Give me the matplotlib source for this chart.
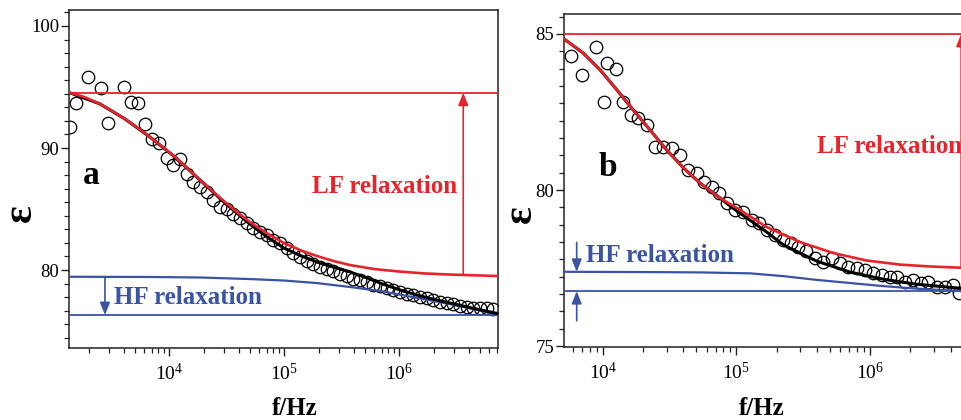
import numpy as np
import matplotlib.pyplot as plt
from matplotlib.ticker import MultipleLocator, AutoMinorLocator, LogLocator, NullFormatter

plt.rcParams['font.family'] = ['Liberation Serif', 'DejaVu Serif']
plt.rcParams['mathtext.default'] = 'regular'

RED = '#e8232a'
BLUE = '#3a53a4'

# ---- panel a (frequency as log10(f/Hz)) ----
a_pts_logf = [3.135, 3.183, 3.294, 3.402, 3.463, 3.604, 3.663, 3.729, 3.787, 3.852,
              3.913, 3.976, 4.030, 4.094, 4.150, 4.207, 4.265, 4.323, 4.381, 4.439,
              4.497, 4.555, 4.613, 4.671, 4.729, 4.787, 4.845, 4.903, 4.961, 5.019,
              5.077, 5.135, 5.193, 5.250, 5.309, 5.367, 5.424, 5.483, 5.541, 5.598,
              5.657, 5.715, 5.772, 5.830, 5.889, 5.946, 6.004, 6.063, 6.120, 6.178,
              6.237, 6.294, 6.352, 6.410, 6.468, 6.526, 6.584, 6.642, 6.700, 6.758, 6.816]
a_pts_eps = [91.75, 93.66, 95.84, 94.94, 92.07, 94.98, 93.80, 93.71, 91.97, 90.74,
             90.41, 89.22, 88.61, 89.11, 87.83, 87.24, 86.84, 86.43, 85.78, 85.16,
             85.00, 84.59, 84.24, 83.83, 83.44, 83.11, 82.87, 82.43, 82.19, 81.80,
             81.39, 81.07, 80.71, 80.49, 80.25, 80.12, 79.92, 79.71, 79.51, 79.30,
             79.16, 79.02, 78.81, 78.66, 78.50, 78.36, 78.20, 78.06, 77.95, 77.79,
             77.68, 77.54, 77.40, 77.30, 77.19, 77.07, 76.99, 76.91, 76.86, 76.86, 76.78]

a_lf_logf = [3.126, 3.26, 3.396, 3.505, 3.613, 3.72, 3.830, 3.94, 4.048, 4.157, 4.265,
             4.374, 4.483, 4.59, 4.700, 4.85, 4.996, 5.14, 5.283, 5.43, 5.570, 5.78,
             5.996, 6.22, 6.439, 6.857]
a_lf_eps = [94.55, 94.18, 93.61, 93.02, 92.38, 91.68, 90.90, 90.10, 89.26, 88.33, 87.38,
            86.47, 85.57, 84.72, 83.93, 83.00, 82.21, 81.62, 81.15, 80.73, 80.41, 80.08,
            79.88, 79.72, 79.63, 79.51]

a_fit_logf = [3.126, 3.396, 3.613, 3.830, 4.048, 4.265, 4.483, 4.700, 4.85, 4.996,
              5.14, 5.283, 5.43, 5.570, 5.71, 5.857, 6.0, 6.152, 6.30, 6.439, 6.60, 6.857]
a_fit_eps = [94.55, 93.61, 92.38, 90.90, 89.26, 87.38, 85.49, 83.77, 82.70, 81.80,
             81.18, 80.66, 80.22, 79.84, 79.38, 78.85, 78.38, 77.95, 77.60, 77.30,
             76.95, 76.43]

a_hf_logf = [3.126, 3.830, 4.265, 4.700, 4.996, 5.283, 5.570, 5.857, 6.152, 6.439, 6.65, 6.857]
a_hf_eps = [79.45, 79.43, 79.39, 79.26, 79.14, 78.93, 78.61, 78.25, 77.72, 77.21, 76.78, 76.31]

a_lf_top = 94.53
a_hf_bottom = 76.31
a_lf_arrow_logf = 6.555
a_hf_arrow_logf = 3.439

# ---- panel b ----
b_pts_logf = [3.761, 3.843, 3.948, 4.012, 4.030, 4.100, 4.154, 4.210, 4.266, 4.329,
              4.391, 4.453, 4.516, 4.578, 4.640, 4.703, 4.758, 4.816, 4.872, 4.928,
              4.990, 5.052, 5.115, 5.172, 5.227, 5.289, 5.347, 5.407, 5.464, 5.521,
              5.589, 5.651, 5.713, 5.776, 5.838, 5.900, 5.963, 6.025, 6.088, 6.150,
              6.200, 6.262, 6.324, 6.379, 6.436, 6.499, 6.561, 6.619, 6.668, 6.726, 6.79]
b_pts_eps = [84.29, 83.69, 84.59, 82.83, 84.06, 83.88, 82.83, 82.40, 82.30, 82.08,
             81.39, 81.39, 81.34, 81.12, 80.64, 80.54, 80.27, 80.11, 79.89, 79.57,
             79.36, 79.30, 79.04, 78.93, 78.72, 78.56, 78.40, 78.29, 78.18, 78.05,
             77.81, 77.70, 77.81, 77.65, 77.54, 77.49, 77.44, 77.33, 77.28, 77.22,
             77.22, 77.06, 77.12, 77.01, 77.06, 76.90, 76.90, 76.96, 76.69, 76.80, 76.72]

b_lf_logf = [3.713, 3.853, 3.980, 4.105, 4.229, 4.354, 4.479, 4.603, 4.728, 4.878,
             5.027, 5.227, 5.477, 5.725, 5.975, 6.225, 6.449, 6.681, 6.951]
b_lf_eps = [84.83, 84.39, 83.85, 83.21, 82.56, 81.92, 81.28, 80.71, 80.22, 79.74,
            79.36, 78.81, 78.33, 77.98, 77.74, 77.61, 77.55, 77.51, 77.48]

b_fit_logf = [3.713, 3.853, 3.980, 4.105, 4.229, 4.354, 4.479, 4.603, 4.728, 4.878,
              4.977, 5.227, 5.351, 5.601, 5.850, 6.100, 6.349, 6.681, 6.951]
b_fit_eps = [84.83, 84.39, 83.85, 83.21, 82.56, 81.92, 81.28, 80.71, 80.22, 79.74,
             79.41, 78.65, 78.24, 77.72, 77.37, 77.14, 76.98, 76.85, 76.76]

b_hf_logf = [3.713, 4.354, 4.728, 5.102, 5.351, 5.601, 5.850, 6.100, 6.349, 6.681, 6.951]
b_hf_eps = [77.38, 77.37, 77.36, 77.33, 77.24, 77.12, 77.02, 76.92, 76.84, 76.76, 76.75]

b_lf_top = 85.0
b_hf_bottom = 76.76
b_lf_arrow_logf = 6.681
b_hf_arrow_logf = 3.805
b_hf_arrow_tails = [78.32, 75.81]

fig = plt.figure(figsize=(9.61, 4.2), dpi=100)
ax_a = fig.add_axes([0.0718, 0.1714, 0.4464, 0.8048])
ax_b = fig.add_axes([0.5869, 0.1738, 0.4506, 0.7929])


def style_axis(ax, xlim, ylim, major):
    ax.set_xscale('log')
    ax.set_xlim(*xlim)
    ax.set_ylim(*ylim)
    ax.yaxis.set_major_locator(MultipleLocator(major))
    ax.yaxis.set_minor_locator(AutoMinorLocator(9))
    ax.xaxis.set_major_locator(LogLocator(base=10))
    ax.xaxis.set_minor_locator(LogLocator(base=10, subs=np.arange(2, 10)))
    ax.xaxis.set_minor_formatter(NullFormatter())
    for s in ax.spines.values():
        s.set_linewidth(1.1)
        s.set_color('#222222')
    ax.tick_params(which='major', direction='out', length=5.5, width=1.0, color='#222222')
    ax.tick_params(which='minor', direction='out', length=3.5, width=0.9, color='#222222')
    ax.tick_params(axis='y', labelsize=13.5, pad=1.5)
    ax.tick_params(axis='x', labelsize=14, pad=5)
    ax.set_xlabel('f/Hz', fontsize=18, fontweight='bold')
    ax.set_ylabel('ε', fontsize=30, fontweight='bold')


def draw(ax, pts_x, pts_y, lf_x, lf_y, fit_x, fit_y, hf_x, hf_y, lf_top, hf_bottom):
    f = lambda v: np.power(10.0, np.asarray(v))
    ax.plot(f(pts_x), pts_y, 'o', ms=9, mfc='none', mec='black', mew=0.9, zorder=2)
    ax.axhline(lf_top, color=RED, lw=1.3, zorder=3)
    ax.axhline(hf_bottom, color=BLUE, lw=1.3, zorder=3)
    ax.plot(f(hf_x), hf_y, color=BLUE, lw=1.6, zorder=3)
    ax.plot(f(fit_x), fit_y, color='black', lw=2.2, zorder=4)
    ax.plot(f(lf_x), lf_y, color=RED, lw=1.9, zorder=5)


def arrow(ax, logf, y0, y1, color):
    x = 10.0 ** logf
    ax.annotate('', xy=(x, y1), xytext=(x, y0),
                arrowprops=dict(arrowstyle='-|>,head_length=0.75,head_width=0.3',
                                mutation_scale=10, color=color, lw=1.2,
                                shrinkA=0, shrinkB=0), zorder=6)


# panel a
style_axis(ax_a, (1337, 7.2e6), (73.61, 101.31), 10)
draw(ax_a, a_pts_logf, a_pts_eps, a_lf_logf, a_lf_eps, a_fit_logf, a_fit_eps,
     a_hf_logf, a_hf_eps, a_lf_top, a_hf_bottom)
arrow(ax_a, a_lf_arrow_logf, a_lf_eps[-2], a_lf_top, RED)
arrow(ax_a, a_hf_arrow_logf, a_hf_eps[0], a_hf_bottom, BLUE)
ax_a.text(0.033, 0.51, 'a', transform=ax_a.transAxes, fontsize=24, fontweight='bold',
          ha='left', va='center')
ax_a.text(0.566, 0.479, 'LF relaxation', transform=ax_a.transAxes, fontsize=18,
          fontweight='bold', color=RED, ha='left', va='center')
ax_a.text(0.106, 0.148, 'HF relaxation', transform=ax_a.transAxes, fontsize=18,
          fontweight='bold', color=BLUE, ha='left', va='center')
ax_a.xaxis.set_label_coords(0.527, -0.145)
ax_a.yaxis.set_label_coords(-0.068, 0.40)

# panel b
style_axis(ax_b, (5130, 8.9e6), (74.97, 85.64), 5)
draw(ax_b, b_pts_logf, b_pts_eps, b_lf_logf, b_lf_eps, b_fit_logf, b_fit_eps,
     b_hf_logf, b_hf_eps, b_lf_top, b_hf_bottom)
arrow(ax_b, b_lf_arrow_logf, b_lf_eps[-2], b_lf_top, RED)
arrow(ax_b, b_hf_arrow_logf, b_hf_arrow_tails[0], b_hf_eps[0], BLUE)
arrow(ax_b, b_hf_arrow_logf, b_hf_arrow_tails[1], b_hf_bottom, BLUE)
ax_b.text(0.079, 0.54, 'b', transform=ax_b.transAxes, fontsize=24, fontweight='bold',
          ha='left', va='center')
ax_b.text(0.584, 0.601, 'LF relaxation', transform=ax_b.transAxes, fontsize=18,
          fontweight='bold', color=RED, ha='left', va='center')
ax_b.text(0.051, 0.276, 'HF relaxation', transform=ax_b.transAxes, fontsize=18,
          fontweight='bold', color=BLUE, ha='left', va='center')
ax_b.xaxis.set_label_coords(0.457, -0.149)
ax_b.yaxis.set_label_coords(-0.055, 0.40)

fig.savefig('out.png', dpi=100)
